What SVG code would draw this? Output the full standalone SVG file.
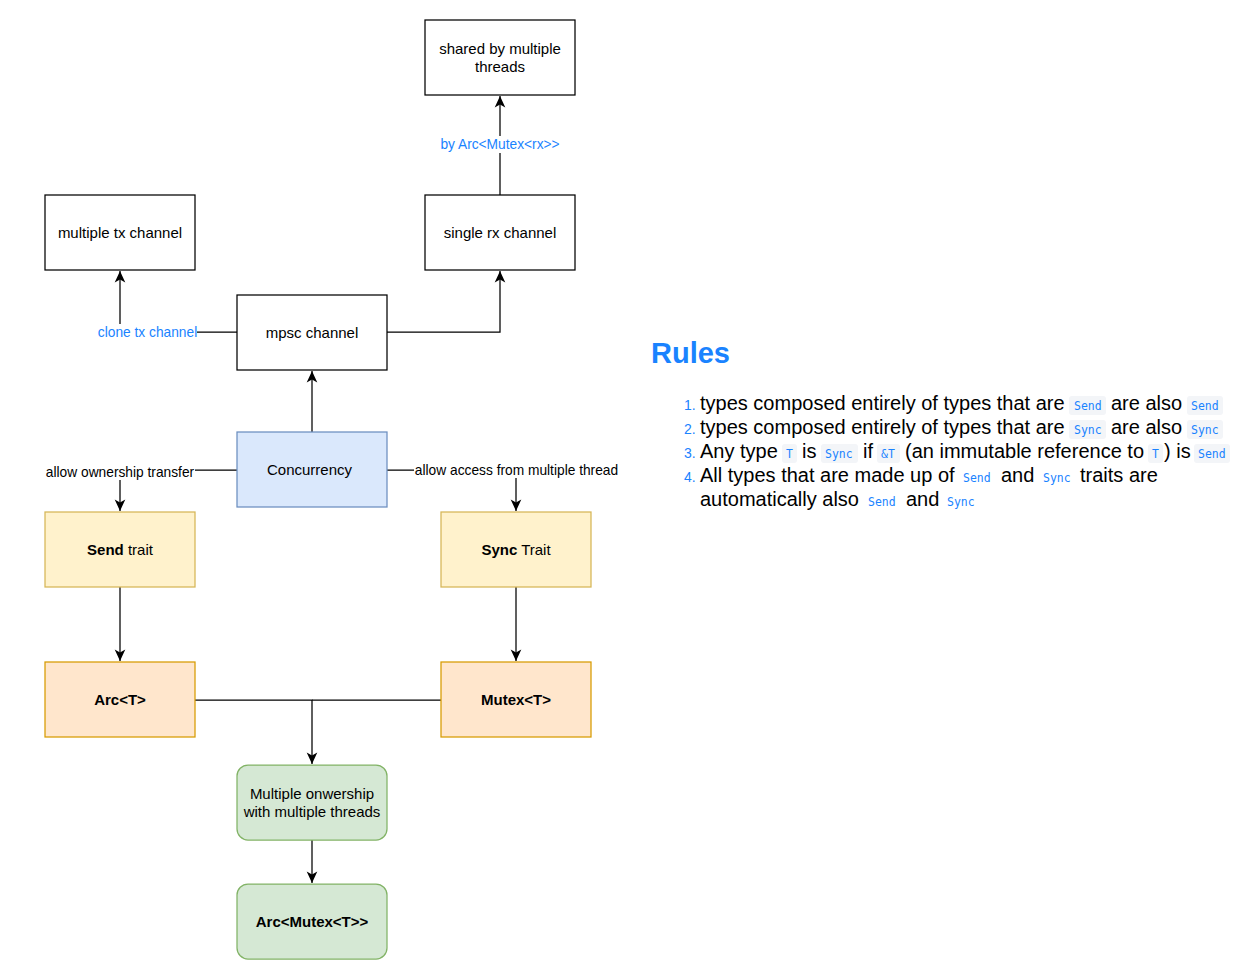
<svg xmlns="http://www.w3.org/2000/svg" width="1257" height="969" viewBox="0 0 1257 969">
<style>
.n{stroke:#000;stroke-width:1.25;fill:#fff}
.blue{fill:#dae8fc;stroke:#6c8ebf;stroke-width:1.25}
.yel{fill:#fff2cc;stroke:#d6b656;stroke-width:1.25}
.org{fill:#ffe6cc;stroke:#d79b00;stroke-width:1.25}
.grn{fill:#d5e8d4;stroke:#82b366;stroke-width:1.25}
.t{font-family:"Liberation Sans",Arial,sans-serif;font-size:15px;fill:#000;text-anchor:middle}
.b{font-weight:bold}
.e{fill:none;stroke:#000;stroke-width:1.25}
.lb{font-family:"Liberation Sans",Arial,sans-serif;font-size:13.75px;text-anchor:middle}
.lbb{fill:#1a83ff}
.lbk{fill:#000}
.r{font-family:"Liberation Sans",Arial,sans-serif;font-size:20px;fill:#000}
.num{font-family:"Liberation Sans",Arial,sans-serif;font-size:14px;fill:#1a83ff}
.c{font-family:"DejaVu Sans Mono","Liberation Mono",monospace;font-size:11.5px;fill:#1a83ff}
.cb{fill:#f3f5f8}
</style>
<defs>
<marker id="arr" markerUnits="userSpaceOnUse" markerWidth="13" markerHeight="13" viewBox="0 0 13 13" refX="12" refY="6.5" orient="auto">
<path d="M0.5,1.2 L12,6.5 L0.5,11.8 L3.5,6.5 Z" fill="#000"/>
</marker>
</defs>
<rect width="1257" height="969" fill="#fff"/>
<g id="connectors">
<path class="e" d="M500,195 L500,96" marker-end="url(#arr)"/>
<path class="e" d="M237,332 L120,332 L120,271" marker-end="url(#arr)"/>
<path class="e" d="M387,332 L500,332 L500,271" marker-end="url(#arr)"/>
<path class="e" d="M312,432 L312,371" marker-end="url(#arr)"/>
<path class="e" d="M237,470 L120,470 L120,511" marker-end="url(#arr)"/>
<path class="e" d="M387,470 L516,470 L516,511" marker-end="url(#arr)"/>
<path class="e" d="M120,587 L120,661" marker-end="url(#arr)"/>
<path class="e" d="M516,587 L516,661" marker-end="url(#arr)"/>
<path class="e" d="M195,700 L312,700 L312,764" marker-end="url(#arr)"/>
<path class="e" d="M441,700 L312,700"/>
<path class="e" d="M312,840 L312,883" marker-end="url(#arr)"/>
<rect x="439" y="136" width="122" height="17" fill="#fff"/>
<text class="lb lbb" x="500" y="149">by Arc&lt;Mutex&lt;rx&gt;&gt;</text>
<rect x="97" y="324" width="100" height="17" fill="#fff"/>
<text class="lb lbb" x="147.5" y="337">clone tx channel</text>
<rect x="45" y="463" width="150" height="17" fill="#fff"/>
<text class="lb lbk" x="120" y="477">allow ownership transfer</text>
<rect x="414" y="461" width="205" height="17" fill="#fff"/>
<text class="lb lbk" x="516.5" y="475">allow access from multiple thread</text>
</g>
<g id="shared">
<rect class="n" x="425" y="20" width="150" height="75"/>
<text class="t" x="500" y="54">shared by multiple</text>
<text class="t" x="500" y="72">threads</text>
</g>
<g id="multitx">
<rect class="n" x="45" y="195" width="150" height="75"/>
<text class="t" x="120" y="238">multiple tx channel</text>
</g>
<g id="singlerx">
<rect class="n" x="425" y="195" width="150" height="75"/>
<text class="t" x="500" y="238">single rx channel</text>
</g>
<g id="mpsc">
<rect class="n" x="237" y="295" width="150" height="75"/>
<text class="t" x="312" y="338">mpsc channel</text>
</g>
<g id="concurrency">
<rect class="blue" x="237" y="432" width="150" height="75"/>
<text class="t" x="309.5" y="475">Concurrency</text>
</g>
<g id="send">
<rect class="yel" x="45" y="512" width="150" height="75"/>
<text class="t" x="120" y="555"><tspan class="b">Send</tspan> trait</text>
</g>
<g id="sync">
<rect class="yel" x="441" y="512" width="150" height="75"/>
<text class="t" x="516" y="555"><tspan class="b">Sync</tspan> Trait</text>
</g>
<g id="arc">
<rect class="org" x="45" y="662" width="150" height="75"/>
<text class="t b" x="120" y="705">Arc&lt;T&gt;</text>
</g>
<g id="mutex">
<rect class="org" x="441" y="662" width="150" height="75"/>
<text class="t b" x="516" y="705">Mutex&lt;T&gt;</text>
</g>
<g id="multiple">
<rect class="grn" x="237" y="765" width="150" height="75" rx="11"/>
<text class="t" x="312" y="799">Multiple onwership</text>
<text class="t" x="312" y="817">with multiple threads</text>
</g>
<g id="arcmutex">
<rect class="grn" x="237" y="884" width="150" height="75" rx="11"/>
<text class="t b" x="312" y="927">Arc&lt;Mutex&lt;T&gt;&gt;</text>
</g>
<g id="rules">
<text x="651" y="363" font-family="'Liberation Sans',Arial,sans-serif" font-size="29" font-weight="bold" fill="#1a83ff">Rules</text>
<text class="num" x="684" y="410">1.</text>
<text class="num" x="684" y="434">2.</text>
<text class="num" x="684" y="458">3.</text>
<text class="num" x="684" y="482">4.</text>
<rect class="cb" x="1069" y="396" width="37" height="19" rx="3"/>
<rect class="cb" x="1187" y="396" width="36" height="19" rx="3"/>
<rect class="cb" x="1069" y="420" width="37" height="19" rx="3"/>
<rect class="cb" x="1187" y="420" width="36" height="19" rx="3"/>
<rect class="cb" x="782" y="444" width="15" height="19" rx="3"/>
<rect class="cb" x="821" y="444" width="37" height="19" rx="3"/>
<rect class="cb" x="877" y="444" width="23" height="19" rx="3"/>
<rect class="cb" x="1148" y="444" width="15" height="19" rx="3"/>
<rect class="cb" x="1194" y="444" width="36" height="19" rx="3"/>
<text class="r" x="700" y="410">types composed entirely of types that are</text>
<text class="c" x="1074" y="410">Send</text>
<text class="r" x="1111" y="410">are also</text>
<text class="c" x="1191" y="410">Send</text>
<text class="r" x="700" y="434">types composed entirely of types that are</text>
<text class="c" x="1074" y="434">Sync</text>
<text class="r" x="1111" y="434">are also</text>
<text class="c" x="1191" y="434">Sync</text>
<text class="r" x="700" y="458">Any type</text>
<text class="c" x="786" y="458">T</text>
<text class="r" x="802" y="458">is</text>
<text class="c" x="825" y="458">Sync</text>
<text class="r" x="863" y="458">if</text>
<text class="c" x="881" y="458">&amp;T</text>
<text class="r" x="905" y="458">(an immutable reference to</text>
<text class="c" x="1152" y="458">T</text>
<text class="r" x="1164" y="458">) is</text>
<text class="c" x="1198" y="458">Send</text>
<text class="r" x="700" y="482">All types that are made up of</text>
<text class="c" x="963" y="482">Send</text>
<text class="r" x="1001" y="482">and</text>
<text class="c" x="1043" y="482">Sync</text>
<text class="r" x="1080" y="482">traits are</text>
<text class="r" x="700" y="506">automatically also</text>
<text class="c" x="868" y="506">Send</text>
<text class="r" x="906" y="506">and</text>
<text class="c" x="947" y="506">Sync</text>
</g>
</svg>
